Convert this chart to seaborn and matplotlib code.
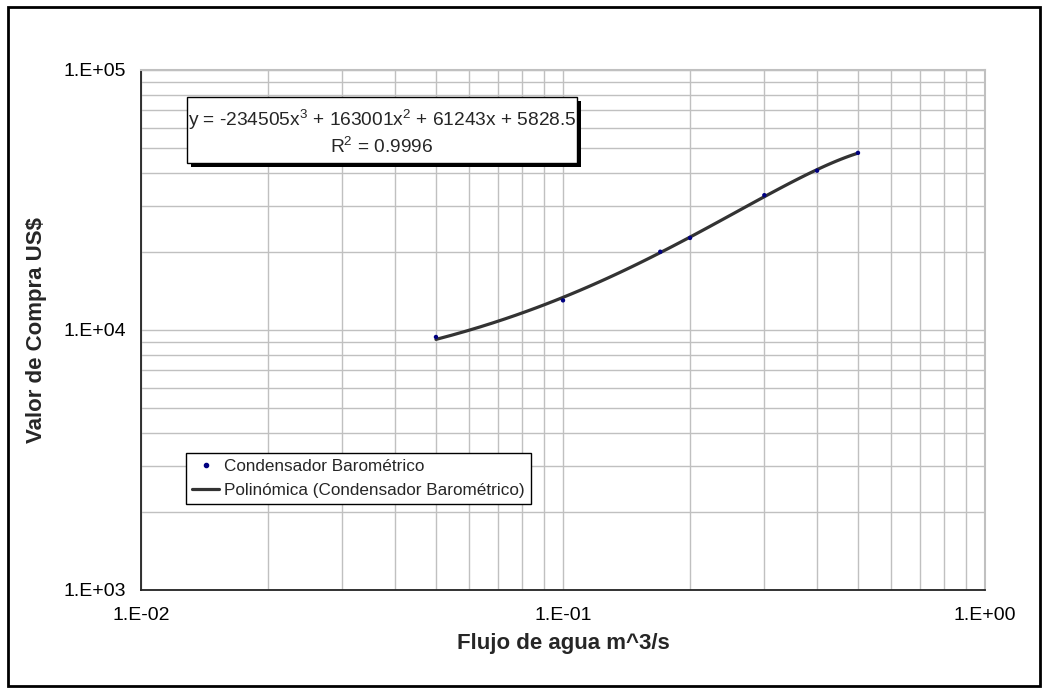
import numpy as np
import pandas as pd
import matplotlib
matplotlib.use("Agg")
import matplotlib.pyplot as plt
import seaborn as sns
from matplotlib.ticker import LogLocator, FixedLocator, FixedFormatter, NullFormatter
from matplotlib.lines import Line2D
from matplotlib.patches import Rectangle

# ---- data ----
flujo = [0.05, 0.1, 0.17, 0.2, 0.3, 0.4, 0.5]
valor = [9400, 13000, 20000, 22600, 33000, 41000, 48000]
x_ticks = [0.01, 0.1, 1.0]
x_labels = ["1.E-02", "1.E-01", "1.E+00"]
y_ticks = [1e3, 1e4, 1e5]
y_labels = ["1.E+03", "1.E+04", "1.E+05"]
serie = "Condensador Barométrico"
tendencia = "Polinómica (Condensador Barométrico)"
ecuacion_1 = "y = -234505x$^{3}$ + 163001x$^{2}$ + 61243x + 5828.5"
ecuacion_2 = "R$^{2}$ = 0.9996"
x_title = "Flujo de agua m^3/s"
y_title = "Valor de Compra US\\$"

df = pd.DataFrame({"flujo": flujo, "valor": valor})

sns.set_theme(style="white")
plt.rcParams["font.family"] = ["Liberation Sans", "DejaVu Sans"]
plt.rcParams["mathtext.fontset"] = "custom"
plt.rcParams["mathtext.rm"] = "Liberation Sans"
plt.rcParams["mathtext.it"] = "Liberation Sans"

W, H = 1047, 693
fig = plt.figure(figsize=(W / 100, H / 100), dpi=100)
L, R, T, B = 141, 985, 70, 590
ax = fig.add_axes([L / W, 1 - B / H, (R - L) / W, (B - T) / H])

ax.set_xscale("log")
ax.set_yscale("log")
ax.set_xlim(0.01, 1.0)
ax.set_ylim(1e3, 1e5)

grid_c = "#c0c0c0"
ax.xaxis.set_major_locator(FixedLocator(x_ticks))
ax.xaxis.set_major_formatter(FixedFormatter(x_labels))
ax.yaxis.set_major_locator(FixedLocator(y_ticks))
ax.yaxis.set_major_formatter(FixedFormatter(y_labels))
ax.xaxis.set_minor_locator(LogLocator(base=10, subs=np.arange(2, 10)))
ax.yaxis.set_minor_locator(LogLocator(base=10, subs=np.arange(2, 10)))
ax.xaxis.set_minor_formatter(NullFormatter())
ax.yaxis.set_minor_formatter(NullFormatter())
ax.grid(True, which="both", color=grid_c, linewidth=1.0)
ax.set_axisbelow(True)

# trendline (3rd order polynomial fit, like Excel's trendline)
sns.regplot(data=df, x="flujo", y="valor", order=3, ci=None, scatter=False,
            truncate=True, ax=ax, line_kws=dict(color="#333333", lw=2.3))
sns.scatterplot(data=df, x="flujo", y="valor", ax=ax, color="#000080",
                s=10, marker="o", edgecolor="none", zorder=3)

ax.tick_params(axis="both", which="both", direction="out", colors="black",
               labelsize=14, length=5, width=1)
ax.tick_params(axis="x", which="major", pad=7)
ax.tick_params(axis="y", which="major", pad=6)

for s in ["top", "right"]:
    ax.spines[s].set_color(grid_c)
    ax.spines[s].set_linewidth(1.5)
for s in ["left", "bottom"]:
    ax.spines[s].set_color("#222222")
    ax.spines[s].set_linewidth(1.3)

ax.set_xlabel(x_title, fontsize=16, fontweight="bold", va="center", ha="center")
ax.set_ylabel(y_title, fontsize=16, fontweight="bold", va="center", ha="center")
ax.xaxis.set_label_coords(0.5, (B - 643) / (B - T))
ax.yaxis.set_label_coords((37 - L) / (R - L), 0.5)

# equation box with drop shadow
bx0, bx1, by0, by1 = 187, 577, 97, 163
sh = 4
fig.add_artist(Rectangle(((bx0 + sh) / W, 1 - (by1 + sh) / H), (bx1 - bx0) / W, (by1 - by0) / H,
                         transform=fig.transFigure, fc="black", ec="none", zorder=5))
fig.add_artist(Rectangle((bx0 / W, 1 - by1 / H), (bx1 - bx0) / W, (by1 - by0) / H,
                         transform=fig.transFigure, fc="white", ec="black", lw=1, zorder=6))
fig.text((bx0 + bx1) / 2 / W, 1 - 120 / H, ecuacion_1, ha="center", va="center",
         fontsize=13.8, zorder=7)
fig.text((bx0 + bx1) / 2 / W, 1 - 147 / H, ecuacion_2, ha="center", va="center",
         fontsize=13.8, zorder=7)

handles = [
    Line2D([], [], marker="o", linestyle="none", color="#000080", markersize=3),
    Line2D([], [], color="#333333", lw=2.3),
]
leg = ax.legend(handles, [serie, tendencia], loc="upper left",
                bbox_to_anchor=((186 - L) / (R - L), (B - 453) / (B - T)),
                fontsize=12.3, frameon=True, fancybox=False, edgecolor="black",
                framealpha=1, borderpad=0.35, handlelength=1.6, handletextpad=0.3,
                labelspacing=0.55, borderaxespad=0)
leg.get_frame().set_linewidth(1.0)

# outer chart border
fig.add_artist(Rectangle((8 / W, 7 / H), (1040 - 8) / W, (686 - 7) / H,
                         transform=fig.transFigure, fill=False, ec="black", lw=2))

fig.savefig("out.png", dpi=100)
